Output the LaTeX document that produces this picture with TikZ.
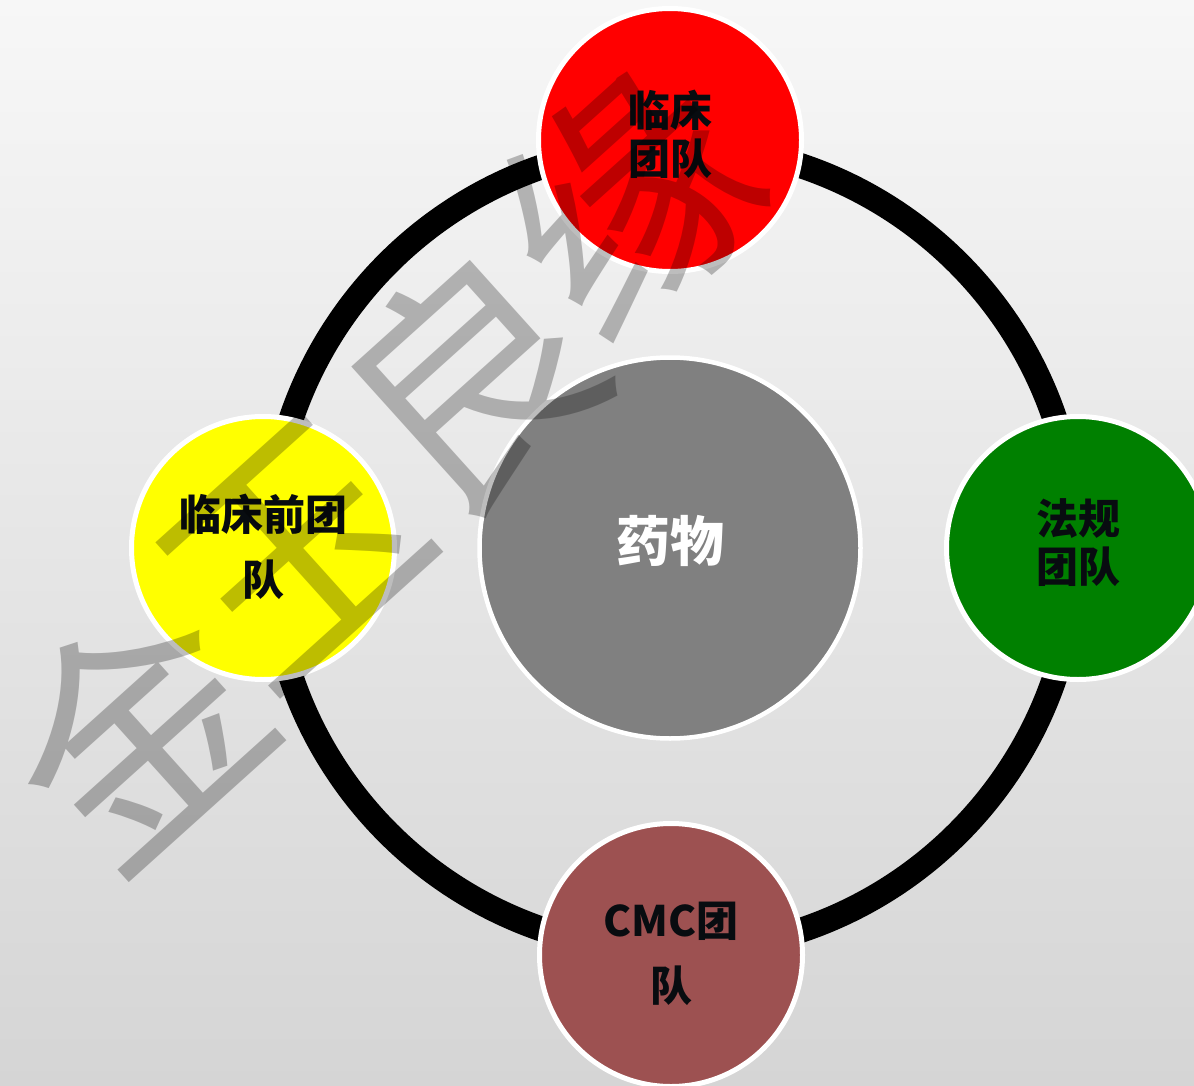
\documentclass[tikz,border=0pt]{standalone}
\usepackage{fontspec}
\newfontfamily\cjk{Noto Sans CJK SC}
\definecolor{bgtop}{RGB}{247,247,247}
\definecolor{bgbot}{RGB}{213,213,213}
\definecolor{txt}{RGB}{8,12,16}
\definecolor{cred}{RGB}{255,0,0}
\definecolor{cyellow}{RGB}{255,255,0}
\definecolor{cgreen}{RGB}{0,128,0}
\definecolor{cbrown}{RGB}{157,81,81}
\definecolor{cgray}{RGB}{128,128,128}
\begin{document}
\begin{tikzpicture}[x=1pt,y=-1pt,
  team/.style={circle, draw=white, line width=5pt, inner sep=0pt,
    minimum size=263pt},
  teamtext/.style={inner sep=0pt, text=txt, align=center,
    font=\cjk\bfseries\fontsize{42}{48}\selectfont},
  wide/.style={font=\cjk\bfseries\fontsize{42}{65}\selectfont},
  core/.style={circle, draw=white, line width=4.5pt, inner sep=0pt,
    minimum size=381pt, fill=cgray},
  coretext/.style={inner sep=0pt, text=white,
    font=\cjk\bfseries\fontsize{54}{60}\selectfont},
  ringline/.style={draw=black, line width=25pt},
  watermark/.style={rotate=42, text=black, text opacity=0.26, inner sep=0pt,
    font=\cjk\fontsize{245}{245}\selectfont}]
\useasboundingbox (0,0) rectangle (1194,1086);
\fill[top color=bgtop, bottom color=bgbot] (0,0) rectangle (1194,1086);
\coordinate (c) at (673,548);
\draw[ringline] (c) circle[radius=403pt];
\node[core] (drug) at (670,548) {};
\node[coretext] (drugT) at (670,541) {药物};
\node[team, fill=cred] (clin) at (670,140) {};
\node[teamtext] (clinT) at (670,134) {临床\\团队};
\node[team, fill=cyellow] (pre) at (263,548) {};
\node[teamtext, wide] (preT) at (263,547) {临床前团\\队};
\node[team, fill=cgreen] (reg) at (1078,548) {};
\node[teamtext] (regT) at (1078,543) {法规\\团队};
\node[team, fill=cbrown] (cmc) at (671,955) {};
\node[teamtext, wide] (cmcT) at (671,954) {CMC团\\队};
\node[watermark] (wm1) at (134,730) {金};
\node[watermark] (wm2) at (295,552) {玉};
\node[watermark] (wm3) at (470,380) {良};
\node[watermark] (wm4) at (628,200) {缘};
\end{tikzpicture}
\end{document}
